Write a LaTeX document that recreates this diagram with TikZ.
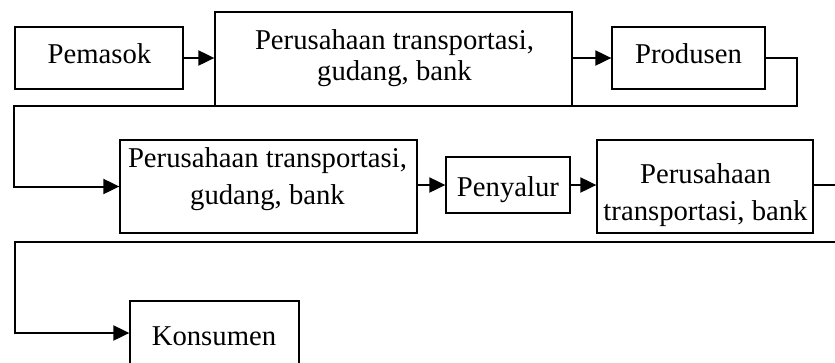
\documentclass[tikz,border=0pt]{standalone}
\usepackage{fontspec}
\setmainfont{Liberation Serif}
\usetikzlibrary{arrows.meta}
\newcommand{\linesat}[2]{\fontsize{28.7}{#1}\selectfont\begin{tabular}[t]{@{}c@{}}#2\end{tabular}}
\begin{document}
\begin{tikzpicture}[x=1pt,y=-1pt,
  font=\fontsize{28.7}{31}\selectfont,
  box/.style={draw=black, line width=1.3pt, inner sep=0pt, rectangle},
  txt/.style={anchor=base, inner sep=0pt},
  conn/.style={line width=2pt, line join=miter, -{Triangle[length=16pt,width=15pt]}}]
\useasboundingbox (0,0) rectangle (835,362);
\clip (0,0) rectangle (835,362);
% boxes
\node[box, minimum width=168pt, minimum height=62pt] (pem) at (99,58) {};
\node[box, minimum width=357pt, minimum height=94pt] (t1) at (393.5,59) {};
\node[box, minimum width=153pt, minimum height=62pt] (prod) at (688.5,58) {};
\node[box, minimum width=297pt, minimum height=93pt] (t2) at (268.5,186.5) {};
\node[box, minimum width=124pt, minimum height=56pt] (pen) at (508,185) {};
\node[box, minimum width=216pt, minimum height=93pt] (t3) at (705,186.5) {};
\node[box, minimum width=169pt, minimum height=64pt] (kon) at (214.5,333) {};
% texts
\node[txt] (pemtxt) at (99.5,63.5) {Pemasok};
\node[txt] (t1txt) at (394.5,49) {\linesat{31}{Perusahaan transportasi,\\ gudang, bank}};
\node[txt] (prodtxt) at (688.5,63.5) {Produsen};
\node[txt] (t2txt) at (267.5,167) {\linesat{37}{Perusahaan transportasi,\\ gudang, bank}};
\node[txt] (pentxt) at (508,196) {Penyalur};
\node[txt] (t3txt) at (705.5,183) {\linesat{37}{Perusahaan\\ transportasi, bank}};
\node[txt] (kontxt) at (214,345) {Konsumen};
% connectors
\coordinate (c1) at (797,106);
\coordinate (c2) at (14,106);
\coordinate (c3) at (839,242);
\coordinate (c4) at (15,242);
\draw[conn] (pem.east) -- (pem.east -| t1.west);
\draw[conn] (t1.east |- prod.east) -- (prod.west);
\draw[conn] (prod.east) -| (c1) -- (c2) |- (t2.west);
\draw[conn] (t2.east |- pen.west) -- (pen.west);
\draw[conn] (pen.east) -- (pen.east -| t3.west);
\draw[conn] (t3.east |- pen.east) -| (c3) -- (c4) |- (kon.west);
\end{tikzpicture}
\end{document}
